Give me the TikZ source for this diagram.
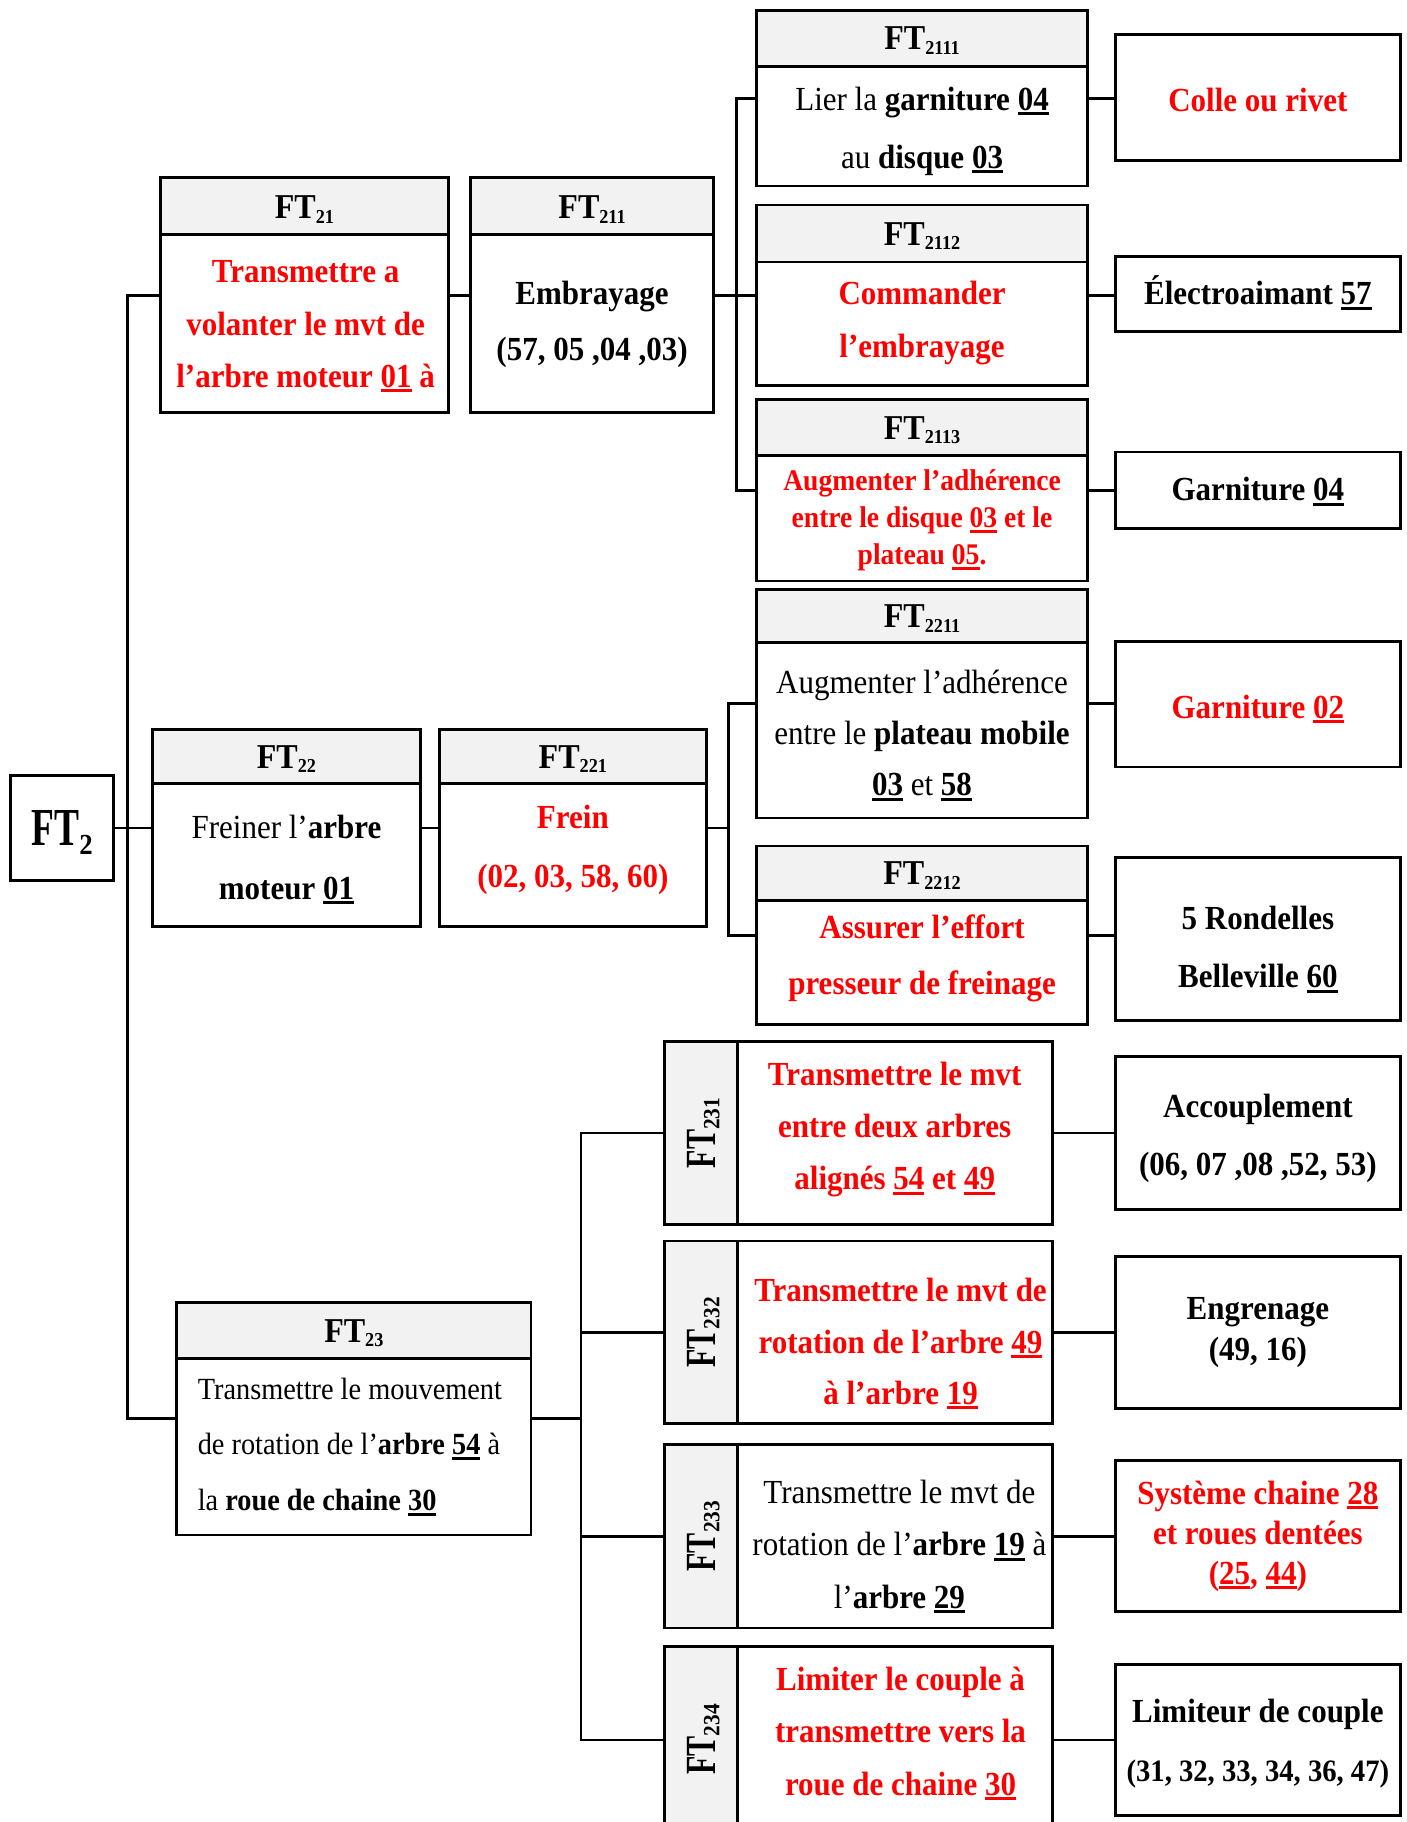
\documentclass[tikz,border=0pt]{standalone}
\usepackage{fontspec}
\setmainfont{Liberation Serif}[FakeStretch=0.92]
\newfontfamily\condf{Liberation Serif}[FakeStretch=0.7]
\usetikzlibrary{calc}
\definecolor{fred}{RGB}{255,0,0}
\definecolor{hdrgray}{RGB}{242,242,242}
\newcommand\fsz[2]{\fontsize{#1}{#2}\selectfont}
\newcommand\undl[1]{\leavevmode\setbox0\hbox{#1}\rlap{\rule[-4.3pt]{\wd0}{2.6pt}}\box0\relax}
\newcommand\hdr[1]{{\bfseries\fsz{30}{30}FT\raisebox{-4pt}{\fsz{17}{17}#1}}}
\newcommand\vhdr[1]{{\condf\bfseries\fsz{37}{37}FT\raisebox{-3pt}{\rmfamily\fsz{20}{20}#1}}}
\begin{document}
\begin{tikzpicture}[x=1pt,y=-1pt,
  ln/.style={line width=2.4pt},
  fbox/.style={draw, line width=2.4pt, inner sep=0pt, outer sep=0pt, fill=white},
  hband/.style={fbox, path picture={
      \fill[hdrgray] (path picture bounding box.north west) rectangle ([yshift=-#1pt]path picture bounding box.north east);
      \draw[line width=2.4pt] ([yshift=-#1pt]path picture bounding box.north west) -- ([yshift=-#1pt]path picture bounding box.north east);}},
  vband/.style={fbox, path picture={
      \fill[hdrgray] (path picture bounding box.north west) rectangle ([xshift=#1pt]path picture bounding box.south west);
      \draw[line width=2.4pt] ([xshift=#1pt]path picture bounding box.north west) -- ([xshift=#1pt]path picture bounding box.south west);}},
  txt/.style={inner sep=0pt, align=center},
  htxt/.style={inner sep=0pt, anchor=base},
  vtxt/.style={inner sep=0pt, anchor=base, rotate=90},
]
\useasboundingbox (0,0) rectangle (1210,1568);

% ---------- boxes ----------
\node[fbox, minimum width=89pt, minimum height=90pt] (ft2) at (53.5,712.5) {};
\node[hband=49, minimum width=248pt, minimum height=202pt] (ft21) at (262,254) {};
\node[hband=49, minimum width=209pt, minimum height=202pt] (ft211) at (509.5,254) {};
\node[hband=48, minimum width=285pt, minimum height=151pt] (ft2111) at (793.5,84.5) {};
\node[hband=49, minimum width=285pt, minimum height=155pt] (ft2112) at (793.5,254) {};
\node[hband=48, minimum width=285pt, minimum height=156pt] (ft2113) at (793.5,422) {};
\node[fbox, minimum width=245pt, minimum height=108pt] (r2111) at (1082.5,84) {};
\node[fbox, minimum width=245pt, minimum height=64pt] (r2112) at (1082.5,253) {};
\node[fbox, minimum width=245pt, minimum height=66pt] (r2113) at (1082.5,422) {};

\node[hband=46, minimum width=231pt, minimum height=169pt] (ft22) at (246.5,712.5) {};
\node[hband=46, minimum width=230pt, minimum height=169pt] (ft221) at (493,712.5) {};
\node[hband=46, minimum width=285pt, minimum height=197pt] (ft2211) at (793.5,605.5) {};
\node[hband=47, minimum width=285pt, minimum height=154pt] (ft2212) at (793.5,805) {};
\node[fbox, minimum width=245pt, minimum height=108pt] (r2211) at (1082.5,606) {};
\node[fbox, minimum width=245pt, minimum height=140pt] (r2212) at (1082.5,808) {};

\node[hband=48, minimum width=305pt, minimum height=200pt] (ft23) at (304.5,1221) {};
\node[vband=63, minimum width=334pt, minimum height=158pt] (ft231) at (739,975) {};
\node[vband=63, minimum width=334pt, minimum height=157pt] (ft232) at (739,1146.5) {};
\node[vband=63, minimum width=334pt, minimum height=158pt] (ft233) at (739,1322) {};
\node[vband=63, minimum width=334pt, minimum height=161pt] (ft234) at (739,1497.5) {};
\node[fbox, minimum width=245pt, minimum height=132pt] (r231) at (1082.5,975) {};
\node[fbox, minimum width=245pt, minimum height=131pt] (r232) at (1082.5,1146.5) {};
\node[fbox, minimum width=245pt, minimum height=130pt] (r233) at (1082.5,1322) {};
\node[fbox, minimum width=245pt, minimum height=130pt] (r234) at (1082.5,1497.5) {};

% ---------- connectors ----------
\coordinate (tk) at (110,0);
\coordinate (b1) at (634,0);
\coordinate (b2) at (627,0);
\coordinate (b3) at (500,0);
\draw[ln] (ft21.west) -- (ft21.west -| tk) -- (ft23.west -| tk) -- (ft23.west);
\draw[ln] (ft2.east) -- (ft22.west);
\draw[ln] (ft21.east) -- (ft211.west);
\draw[ln] (ft211.east) -- (ft211.east -| b1);
\draw[ln] (ft2111.west) -- (ft2111.west -| b1) -- (ft2113.west -| b1) -- (ft2113.west);
\draw[ln] (ft2112.west -| b1) -- (ft2112.west);
\draw[ln] (ft2111.east) -- (ft2111.east -| r2111.west);
\draw[ln] (ft2112.east) -- (ft2112.east -| r2112.west);
\draw[ln] (ft2113.east) -- (ft2113.east -| r2113.west);
\draw[ln] (ft22.east) -- (ft221.west);
\draw[ln] (ft221.east) -- (ft221.east -| b2);
\draw[ln] (ft2211.west) -- (ft2211.west -| b2) -- (ft2212.west -| b2) -- (ft2212.west);
\draw[ln] (ft2211.east) -- (ft2211.east -| r2211.west);
\draw[ln] (ft2212.east) -- (ft2212.east -| r2212.west);
\draw[ln] (ft23.east) -- (ft23.east -| b3);
\draw[ln] (ft231.west) -- (ft231.west -| b3) -- (ft234.west -| b3) -- (ft234.west);
\draw[ln] (ft232.west -| b3) -- (ft232.west);
\draw[ln] (ft233.west -| b3) -- (ft233.west);
\draw[ln] (ft231.east) -- (r231.west);
\draw[ln] (ft232.east) -- (r232.west);
\draw[ln] (ft233.east) -- (r233.west);
\draw[ln] (ft234.east) -- (r234.west);

% ---------- header texts ----------
\node[htxt] (ft2t) at (53.5,728) {\condf\bfseries\fsz{46}{46}FT\raisebox{-7pt}{\rmfamily\fsz{25}{25}2}};
\node[htxt] (ft21t) at (262,188) {\hdr{21}};
\node[htxt] (ft211t) at (509.5,188) {\hdr{211}};
\node[htxt] (ft2111t) at (793.5,43) {\hdr{2111}};
\node[htxt] (ft2112t) at (793.5,211) {\hdr{2112}};
\node[htxt] (ft2113t) at (793.5,378) {\hdr{2113}};
\node[htxt] (ft22t) at (246.5,661) {\hdr{22}};
\node[htxt] (ft221t) at (493,661) {\hdr{221}};
\node[htxt] (ft2211t) at (793.5,540) {\hdr{2211}};
\node[htxt] (ft2212t) at (793.5,761.5) {\hdr{2212}};
\node[htxt] (ft23t) at (304.5,1155) {\hdr{23}};
\node[vtxt] (ft231t) at (616,975) {\vhdr{231}};
\node[vtxt] (ft232t) at (616,1146.5) {\vhdr{232}};
\node[vtxt] (ft233t) at (616,1322) {\vhdr{233}};
\node[vtxt] (ft234t) at (616,1497) {\vhdr{234}};

% ---------- body texts ----------
\node[txt, text=fred, font={\bfseries\fsz{29}{45}}] (ft21b) at (263,281) {Transmettre a\\volanter le mvt de\\l’arbre moteur \undl{01} à};
\node[txt, font={\bfseries\fsz{29}{48}}] (ft211b) at (509.5,279) {Embrayage\\(57, 05 ,04 ,03)};
\node[txt, font={\fsz{29}{50}}] (ft2111b) at (793.5,113) {Lier la \textbf{garniture \undl{04}}\\au \textbf{disque \undl{03}}};
\node[txt, text=fred, font={\bfseries\fsz{29}{45}}] (ft2112b) at (793.5,278) {Commander\\l’embrayage};
\node[txt, text=fred, font={\bfseries\fsz{25.8}{32}}] (ft2113b) at (793.5,448) {Augmenter l’adhérence\\entre le disque \undl{03} et le\\plateau \undl{05}.};
\node[txt, text=fred, font={\bfseries\fsz{29}{45}}] (r2111b) at (1082.5,86) {Colle ou rivet};
\node[txt, font={\bfseries\fsz{29}{45}}] (r2112b) at (1082.5,252) {Électroaimant \undl{57}};
\node[txt, font={\bfseries\fsz{29}{45}}] (r2113b) at (1082.5,423) {Garniture \undl{04}};

\node[txt, font={\fsz{29}{52}}] (ft22b) at (246.5,740) {Freiner l’\textbf{arbre}\\\textbf{moteur \undl{01}}};
\node[txt, text=fred, font={\bfseries\fsz{29}{51}}] (ft221b) at (493,731.5) {Frein\\(02, 03, 58, 60)};
\node[txt, font={\fsz{29}{44}}] (ft2211b) at (793.5,633) {Augmenter l’adhérence\\entre le \textbf{plateau mobile}\\\textbf{\undl{03}} et \textbf{\undl{58}}};
\node[txt, text=fred, font={\bfseries\fsz{29}{48}}] (ft2212b) at (793.5,825) {Assurer l’effort\\presseur de freinage};
\node[txt, text=fred, font={\bfseries\fsz{29}{45}}] (r2211b) at (1082.5,610) {Garniture \undl{02}};
\node[txt, font={\bfseries\fsz{29}{50}}] (r2212b) at (1082.5,817) {5 Rondelles\\Belleville \undl{60}};

\node[txt, align=left, anchor=west, font={\fsz{26.5}{48}}] (ft23b) at (170,1245) {Transmettre le mouvement\\de rotation de l’\textbf{arbre \undl{54}} à\\la \textbf{roue de chaine \undl{30}}};
\node[txt, text=fred, font={\bfseries\fsz{29}{45}}] (ft231b) at (770,972) {Transmettre le mvt\\entre deux arbres\\alignés \undl{54} et \undl{49}};
\node[txt, text=fred, font={\bfseries\fsz{29}{44}}] (ft232b) at (775,1156.5) {Transmettre le mvt de\\rotation de l’arbre \undl{49}\\à l’arbre \undl{19}};
\node[txt, font={\fsz{29}{45}}] (ft233b) at (774,1331) {Transmettre le mvt de\\rotation de l’\textbf{arbre \undl{19}} à\\l’\textbf{arbre \undl{29}}};
\node[txt, text=fred, font={\bfseries\fsz{29}{45}}] (ft234b) at (775,1492) {Limiter le couple à\\transmettre vers la\\roue de chaine \undl{30}};
\node[txt, font={\bfseries\fsz{29}{50}}] (r231b) at (1082.5,980) {Accouplement\\(06, 07 ,08 ,52, 53)};
\node[txt, font={\bfseries\fsz{29}{35}}] (r232b) at (1082.5,1147) {Engrenage\\(49, 16)};
\node[txt, text=fred, font={\bfseries\fsz{29}{34.5}}] (r233b) at (1082.5,1322) {Système chaine \undl{28}\\et roues dentées\\(\undl{25}, \undl{44})};
\node[txt, font={\bfseries\fsz{29}{50}}] (r234b) at (1082.5,1500.5) {Limiteur de couple\\{\fsz{26.8}{50}(31, 32, 33, 34, 36, 47)}};
\end{tikzpicture}
\end{document}
